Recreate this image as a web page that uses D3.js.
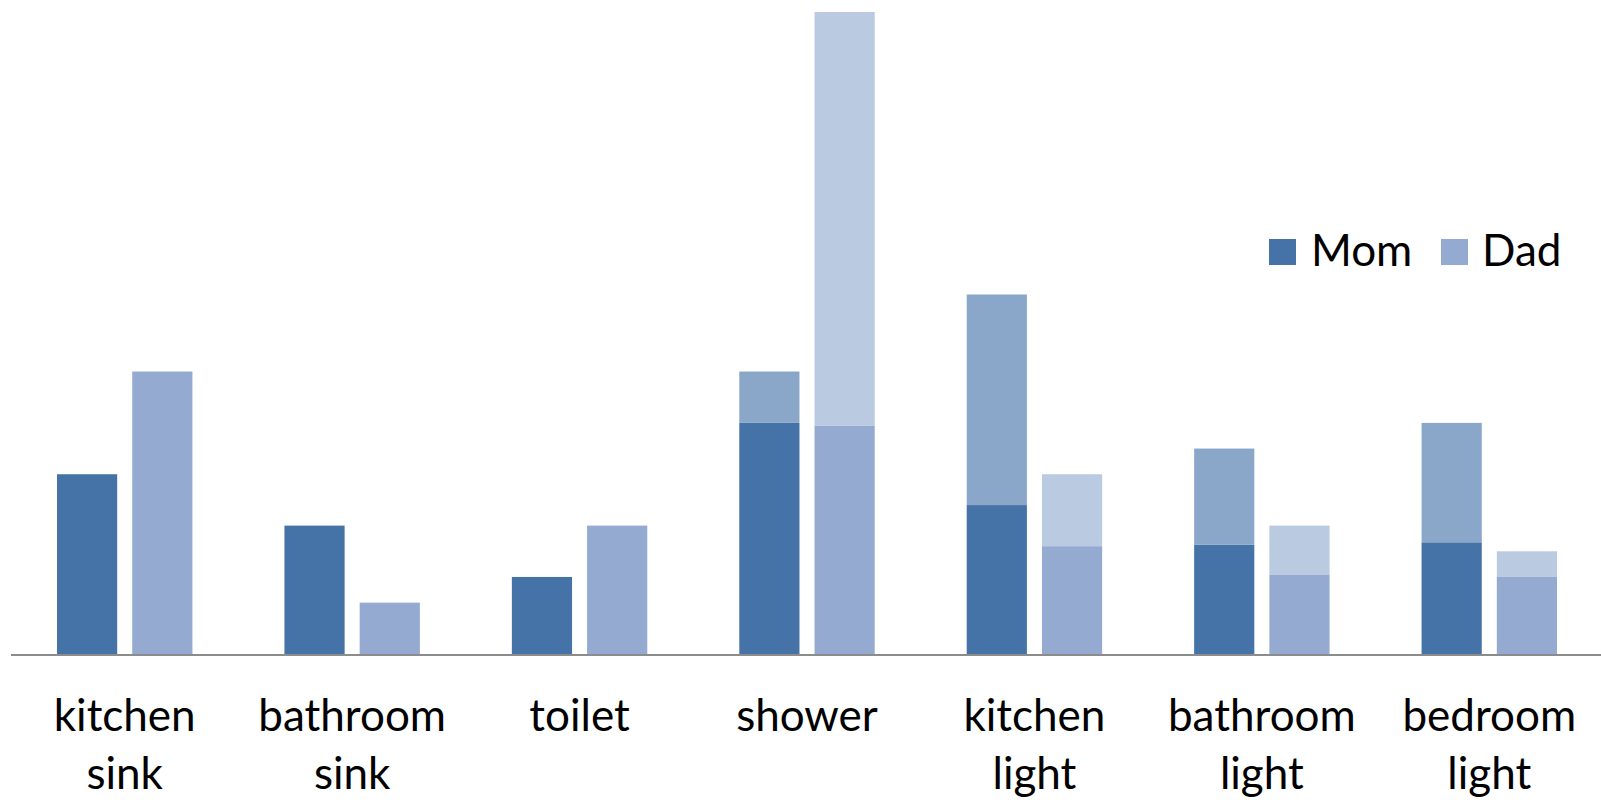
<!DOCTYPE html>
<html>
<head>
<meta charset="utf-8">
<script src="https://cdn.jsdelivr.net/npm/d3@7"></script>
<style>
  html, body { margin: 0; padding: 0; background: #ffffff; }
  svg { display: block; }
  text { font-family: Lato, "Open Sans", sans-serif; fill: #000; }
</style>
</head>
<body>
<svg id="chart" width="1601" height="802"></svg>
<script>
// Categories (two-line labels) and stacked values per person
const categories = ["kitchen sink", "bathroom sink", "toilet", "shower", "kitchen light", "bathroom light", "bedroom light"];
const labelLines = [["kitchen", "sink"], ["bathroom", "sink"], ["toilet"], ["shower"], ["kitchen", "light"], ["bathroom", "light"], ["bedroom", "light"]];
const people = ["Mom", "Dad"];
const momBase  = [7, 5, 3, 9, 5.8, 4.25, 4.35];
const momExtra = [0, 0, 0, 2, 8.2, 3.75, 4.65];
const dadBase  = [11, 2, 5, 8.9, 4.2, 3.1, 3];
const dadExtra = [0, 0, 0, 16.1, 2.8, 1.9, 1];
const yDomain = [0, 25];

const colors = {
  Mom: { base: "#4673a7", extra: "#8aa7c9" },
  Dad: { base: "#95aad1", extra: "#bacae1" }
};

const svg = d3.select("#chart");

const x = d3.scaleBand().domain(categories).range([11, 1603]);
const xSub = d3.scaleBand().domain(people).range([46, x.bandwidth() - 46]).paddingInner(0.2);
const y = d3.scaleLinear().domain(yDomain).range([654, 12]);

// Build stacked segments
const segments = [];
categories.forEach((c, i) => {
  const series = { Mom: [momBase[i], momExtra[i]], Dad: [dadBase[i], dadExtra[i]] };
  people.forEach(p => {
    const [b, e] = series[p];
    segments.push({ cat: c, person: p, y0: 0, y1: b, fill: colors[p].base });
    if (e > 0) segments.push({ cat: c, person: p, y0: b, y1: b + e, fill: colors[p].extra });
  });
});

svg.append("g").selectAll("rect")
  .data(segments)
  .join("rect")
  .attr("x", d => x(d.cat) + xSub(d.person))
  .attr("width", xSub.bandwidth())
  .attr("y", d => y(d.y1))
  .attr("height", d => y(d.y0) - y(d.y1))
  .attr("fill", d => d.fill);

// Category axis line
svg.append("line")
  .attr("x1", 11).attr("x2", 1601)
  .attr("y1", 655).attr("y2", 655)
  .attr("stroke", "#8c8c8c")
  .attr("stroke-width", 2);

// Category labels
const lab = svg.append("g").selectAll("text")
  .data(categories)
  .join("text")
  .attr("x", d => x(d) + x.bandwidth() / 2)
  .attr("y", 731)
  .attr("text-anchor", "middle")
  .style("font-size", "44px");
lab.selectAll("tspan")
  .data((d, i) => labelLines[i])
  .join("tspan")
  .attr("x", function () { return d3.select(this.parentNode).attr("x"); })
  .attr("dy", (d, j) => j === 0 ? 0 : 58)
  .text(d => d);

// Legend
const legend = svg.append("g");
const legendItems = [
  { name: "Mom", sx: 1269, tx: 1311 },
  { name: "Dad", sx: 1441, tx: 1482 }
];
legend.selectAll("rect")
  .data(legendItems)
  .join("rect")
  .attr("x", d => d.sx).attr("y", 239)
  .attr("width", 27).attr("height", 26)
  .attr("fill", d => colors[d.name].base);
legend.selectAll("text")
  .data(legendItems)
  .join("text")
  .attr("x", d => d.tx).attr("y", 266)
  .style("font-size", "44px")
  .text(d => d.name);
</script>
</body>
</html>
